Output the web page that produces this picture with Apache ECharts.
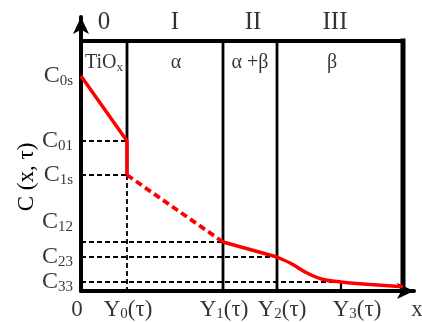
<!DOCTYPE html>
<html>
<head>
<meta charset="utf-8">
<script src="https://cdn.jsdelivr.net/npm/echarts@6/dist/echarts.min.js"></script>
<style>
html, body { margin: 0; padding: 0; background: #fff; }
#main { width: 422px; height: 322px; }
</style>
</head>
<body>
<div id="main"></div>
<script>
// x positions: Y0(τ), Y1(τ), Y2(τ), Y3(τ) and the right wall of the box
let yPos = [4.6, 14.2, 19.6, 26.0];
let xEdge = 32.2;
let yTop = 25.0;
// concentration levels C0s, C01, C1s, C12, C23, C33
let cNames = ['0s', '01', '1s', '12', '23', '33'];
let cLevels = [21.5, 15.0, 11.6, 4.9, 3.4, 0.9];
// tail of the profile in zone III (x, C)
let tailX = [19.6, 21.0, 22.6, 24.2, 26.0, 28.6, 32.2];
let tailC = [3.4, 2.75, 1.8, 1.15, 0.9, 0.68, 0.43];
let zoneNames = ['0', 'I', 'II', 'III'];
let phaseNames = ['{n|TiO}{s|x}', '{n|α}', '{n|α +β}', '{n|β}'];
let xNames = ['0', 'Y0(τ)', 'Y1(τ)', 'Y2(τ)', 'Y3(τ)'];

const FONT = 'Liberation Serif';
const C = {};
cNames.forEach((n, i) => { C[n] = cLevels[i]; });

function richSet(big, small){
    return {
        n: { fontFamily: FONT, fontSize: big, lineHeight: big + 2, color: '#000' },
        s: { fontFamily: FONT, fontSize: small, lineHeight: 14, verticalAlign: 'bottom', color: '#000' }
    };
}

function seg(points, color, width, type, extra){
    return Object.assign({
        type: 'line',
        data: points,
        symbol: 'none',
        silent: true,
        animation: false,
        lineStyle: { color: color, width: width, type: type || 'solid' }
    }, extra || {});
}

function textSeries(items){
    return {
        type: 'scatter',
        symbolSize: 0,
        silent: true,
        animation: false,
        data: items
    };
}

let series = [];
// box: top wall and right wall
series.push(seg([[0, yTop], [xEdge, yTop]], '#000', 4, 'solid', { lineStyle: { color: '#000', width: 4, cap: 'square' } }));
series.push(seg([[xEdge, 0], [xEdge, yTop]], '#000', 5, 'solid', { lineStyle: { color: '#000', width: 5, cap: 'square' } }));
// phase boundaries
series.push(seg([[yPos[0], yTop], [yPos[0], C['1s']]], '#000', 2.8));
series.push(seg([[yPos[0], C['1s']], [yPos[0], 0]], '#000', 1.8, [5, 3]));
series.push(seg([[yPos[1], yTop], [yPos[1], 0]], '#000', 2.8));
series.push(seg([[yPos[2], yTop], [yPos[2], 0]], '#000', 2.8));
series.push(seg([[yPos[3], C['33']], [yPos[3], 0]], '#000', 2.2));
// dashed guide lines to the C axis
let guideEnds = { '01': yPos[0], '1s': yPos[0], '12': yPos[1], '23': yPos[2], '33': yPos[3] };
for (let k in guideEnds)
    series.push(seg([[0, C[k]], [guideEnds[k], C[k]]], '#000', 1.8, [5, 3]));
// concentration profile
series.push(seg([[0, C['0s']], [yPos[0], C['01']], [yPos[0], C['1s']]], '#ff0000', 3.5));
series.push(seg([[yPos[0], C['1s']], [yPos[1], C['12']]], '#ff0000', 3.8, [7, 4]));
series.push(seg([[yPos[1], C['12']], [yPos[2], C['23']]], '#ff0000', 3.5));
series.push(seg(tailX.map((x, i) => [x, tailC[i]]), '#ff0000', 3.5, 'solid', { smooth: 0.35 }));

// C labels on the left
let cOffsets = { '12': [0, -20] };
series.push(textSeries(cNames.map(n => ({
    value: [0, C[n]],
    label: {
        show: true, position: 'left', distance: 8,
        offset: cOffsets[n] || [0, 0],
        formatter: '{n|C}{s|' + n + '}',
        rich: richSet(24, 15)
    }
}))));

// zone numbers above the box and phase names inside it
let walls = [0, yPos[0], yPos[1], yPos[2], xEdge];
let zoneOff = [0, 0, 3, -5];
let phaseOff = [0, 1, 0, -8];
series.push(textSeries(zoneNames.map((z, i) => ({
    value: [(walls[i] + walls[i + 1]) / 2, yTop],
    label: {
        show: true, position: 'top', distance: 5, offset: [zoneOff[i], 0],
        formatter: '{n|' + z + '}', rich: richSet(25, 15)
    }
}))));
series.push(textSeries(phaseNames.map((p, i) => ({
    value: [(walls[i] + walls[i + 1]) / 2, yTop],
    label: {
        show: true, position: 'bottom', distance: 11, offset: [phaseOff[i], 0],
        formatter: p, rich: richSet(20, 13)
    }
}))));

// labels under the x axis
let xAt = [0].concat(yPos);
let xOff = [-4, 1, 1, 5, 16];
series.push(textSeries(xNames.map((t, i) => ({
    value: [xAt[i], 0],
    label: {
        show: true, position: 'bottom', distance: 6, offset: [xOff[i], 0],
        formatter: t.length > 1 ? '{n|Y}{s|' + t[1] + '}{n|(τ)}' : '{n|' + t + '}',
        rich: richSet(23, 15)
    }
}))));
series.push(textSeries([{
    value: [33.3, 0],
    label: { show: true, position: 'bottom', distance: 6, offset: [3, 0], formatter: '{n|x}', rich: richSet(23, 15) }
}]));

let chart = echarts.init(document.getElementById('main'));
chart.setOption({
    backgroundColor: '#fff',
    animation: false,
    grid: { left: 81, right: 8, top: 17, bottom: 31 },
    xAxis: {
        type: 'value', min: 0, max: 33.3,
        axisLine: { lineStyle: { color: '#000', width: 4 }, symbol: ['none', 'arrow'], symbolSize: [12, 17] },
        axisTick: { show: false }, axisLabel: { show: false }, splitLine: { show: false }
    },
    yAxis: {
        type: 'value', min: 0, max: 27.4,
        axisLine: { lineStyle: { color: '#000', width: 4 }, symbol: ['none', 'arrow'], symbolSize: [12, 17] },
        axisTick: { show: false }, axisLabel: { show: false }, splitLine: { show: false }
    },
    graphic: [{
        type: 'text', x: 27, y: 177, rotation: Math.PI / 2,
        style: { text: 'C (x, τ)', fontFamily: FONT, fontSize: 23, fill: '#000', align: 'center', verticalAlign: 'middle' }
    }],
    series: series
});
</script>
</body>
</html>
